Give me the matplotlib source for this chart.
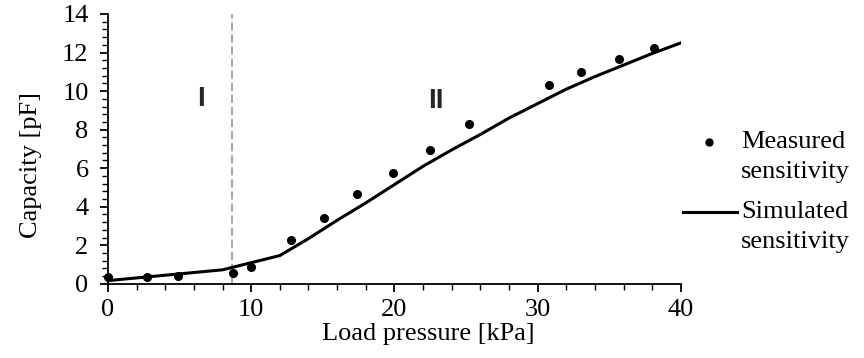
import numpy as np
import matplotlib.pyplot as plt
from matplotlib.ticker import MultipleLocator
from matplotlib.lines import Line2D

# measured points
meas_x = [0.0, 2.7, 4.9, 8.7, 10.0, 12.8, 15.1, 17.4, 19.9, 22.5, 25.2, 30.8, 33.0, 35.7, 38.1]
meas_y = [0.35, 0.38, 0.43, 0.59, 0.90, 2.28, 3.40, 4.65, 5.74, 6.95, 8.31, 10.32, 11.0, 11.65, 12.22]

# simulated curve
sim_x = [0, 2, 4, 6, 8, 10, 12, 14, 16, 18, 20, 22, 24, 26, 28, 30, 32, 34, 36, 38, 40]
sim_y = [0.17, 0.31, 0.45, 0.59, 0.73, 1.10, 1.47, 2.35, 3.30, 4.20, 5.15, 6.10, 6.95,
         7.75, 8.60, 9.35, 10.10, 10.75, 11.35, 11.95, 12.50]

boundary_x = 8.65
regions = ['I', 'II']
region_pos = [(6.5, 9.6), (22.9, 9.5)]

plt.rcParams['font.family'] = ['Liberation Serif', 'DejaVu Serif']
fs = 19

fig = plt.figure(figsize=(8.64, 3.58), dpi=100)
ax = fig.add_axes([0.125, 0.207, 0.663, 0.754])

ax.axvline(boundary_x, color='#8c8c8c', lw=1.1, dashes=(5.3, 2.6), zorder=1)
ax.plot(sim_x, sim_y, color='black', lw=2.2, zorder=2)
ax.plot(meas_x, meas_y, 'o', color='black', ms=5.5, zorder=3, clip_on=False)

for lab, (px, py) in zip(regions, region_pos):
    ax.text(px, py, lab, family='Liberation Sans', fontweight='bold', fontsize=20,
            color='#262626', ha='center', va='center')

ax.set_xlim(0, 40)
ax.set_ylim(0, 14)
ax.xaxis.set_major_locator(MultipleLocator(10))
ax.xaxis.set_minor_locator(MultipleLocator(2))
ax.yaxis.set_major_locator(MultipleLocator(2))
ax.yaxis.set_minor_locator(MultipleLocator(0.4))
ax.tick_params(which='major', direction='out', length=6, width=1.3, labelsize=fs)
ax.tick_params(axis='x', which='major', pad=5)
ax.tick_params(axis='y', which='major', pad=8)
ax.tick_params(which='minor', direction='out', length=4, width=1.0)
for s in ['top', 'right']:
    ax.spines[s].set_visible(False)
for s in ['left', 'bottom']:
    ax.spines[s].set_linewidth(1.3)

ax.set_xlabel('Load pressure [kPa]', fontsize=fs)
ax.set_ylabel('Capacity [pF]', fontsize=fs)
ax.xaxis.set_label_coords(0.56, -0.145)
ax.yaxis.set_label_coords(-0.116, 0.44)

# legend drawn by hand
fig.add_artist(Line2D([709 / 864], [1 - 141.7 / 358], marker='o', color='black', ms=5, ls='none'))
fig.add_artist(Line2D([683 / 864, 737 / 864], [1 - 211.7 / 358] * 2, color='black', lw=2.2))
fig.text(741 / 864, 1 - 141.7 / 358, 'Measured', fontsize=fs, va='center')
fig.text(741 / 864, 1 - 171.7 / 358, 'sensitivity', fontsize=fs, va='center')
fig.text(741 / 864, 1 - 211.7 / 358, 'Simulated', fontsize=fs, va='center')
fig.text(741 / 864, 1 - 241.7 / 358, 'sensitivity', fontsize=fs, va='center')

fig.savefig('out.png', dpi=100)
